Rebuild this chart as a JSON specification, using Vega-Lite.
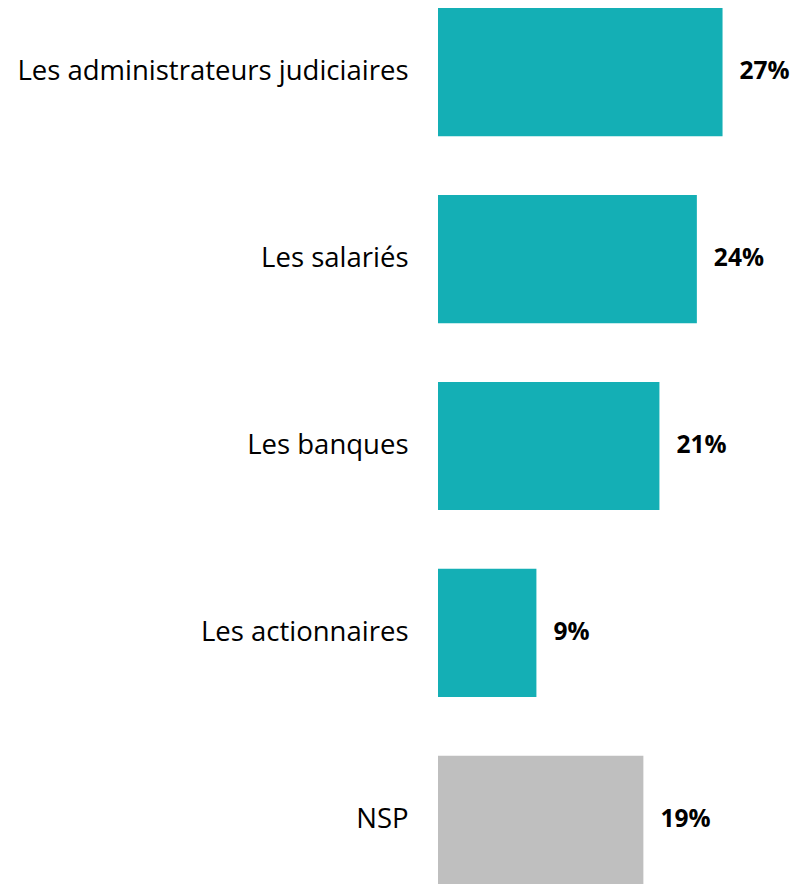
{
  "$schema": "https://vega.github.io/schema/vega-lite/v6.json",
  "autosize": {"type": "none"},
  "width": 353,
  "height": 876,
  "padding": {"left": 438, "top": 8, "right": 0, "bottom": 0},
  "background": "white",
  "view": {"stroke": null},
  "data": {
    "values": [
      {"category": "Les administrateurs judiciaires", "value": 26.6, "label": "27%", "group": "main"},
      {"category": "Les salariés", "value": 24.2, "label": "24%", "group": "main"},
      {"category": "Les banques", "value": 20.7, "label": "21%", "group": "main"},
      {"category": "Les actionnaires", "value": 9.2, "label": "9%", "group": "main"},
      {"category": "NSP", "value": 19.2, "label": "19%", "group": "nsp"}
    ]
  },
  "encoding": {
    "y": {
      "field": "category",
      "type": "nominal",
      "sort": null,
      "scale": {"paddingInner": 0.314, "paddingOuter": 0},
      "axis": {
        "title": null,
        "domain": false,
        "ticks": false,
        "labelPadding": 30,
        "labelFont": "Open Sans",
        "labelFontSize": 27.5,
        "labelColor": "#000000",
        "labelLimit": 500
      }
    },
    "x": {
      "field": "value",
      "type": "quantitative",
      "scale": {"domain": [0, 33]},
      "axis": null
    }
  },
  "layer": [
    {
      "mark": {"type": "bar"},
      "encoding": {
        "color": {
          "field": "group",
          "type": "nominal",
          "scale": {"domain": ["main", "nsp"], "range": ["#14AFB5", "#BFBFBF"]},
          "legend": null
        }
      }
    },
    {
      "mark": {"type": "text", "align": "left", "baseline": "middle", "dx": 17, "font": "Open Sans", "fontSize": 24.5, "fontWeight": "bold", "color": "#000000"},
      "encoding": {"text": {"field": "label"}}
    }
  ]
}
